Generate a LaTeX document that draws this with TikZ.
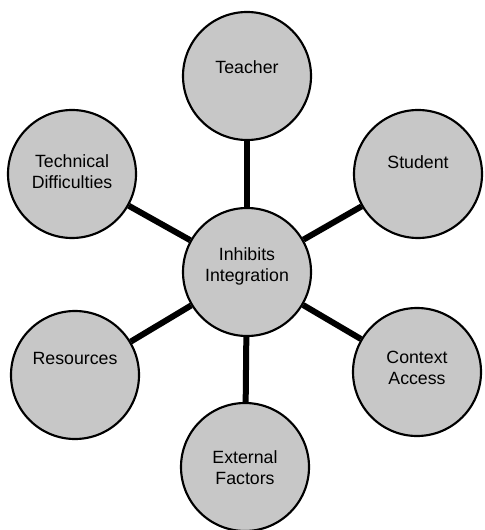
\documentclass[tikz,border=0pt]{standalone}
\usepackage{fontspec}
\setmainfont{Liberation Sans}
\begin{document}
\begin{tikzpicture}[x=0.75pt,y=-0.75pt,
  bubble/.style={circle,draw=black,line width=1.6pt,fill=black!22,minimum size=96pt,inner sep=0pt},
  lbl/.style={font=\fontsize{13.3pt}{15.8pt}\selectfont,align=center,inner sep=0pt},
  link/.style={line width=4.5pt,draw=black}]
\useasboundingbox (0,0) rectangle (484,530);
\node[bubble] (c) at (247,272) {};
\node[bubble] (t) at (247,76) {};
\node[bubble] (s) at (418,174) {};
\node[bubble] (d) at (72,174) {};
\node[bubble] (r) at (75,375) {};
\node[bubble] (a) at (417,372) {};
\node[bubble] (e) at (245,467) {};
\draw[link] (c) -- (t);
\draw[link] (c) -- (s);
\draw[link] (c) -- (d);
\draw[link] (c) -- (r);
\draw[link] (c) -- (a);
\draw[link] (c) -- (e);
\node[lbl] (ct) at (247,266) {Inhibits\\Integration};
\node[lbl] (tt) at (247,67) {Teacher};
\node[lbl] (st) at (418,162) {Student};
\node[lbl] (dt) at (72,172) {Technical\\Difficulties};
\node[lbl] (rt) at (75,358) {Resources};
\node[lbl] (at) at (417,368) {Context\\Access};
\node[lbl] (et) at (245,468) {External\\Factors};
\end{tikzpicture}
\end{document}
